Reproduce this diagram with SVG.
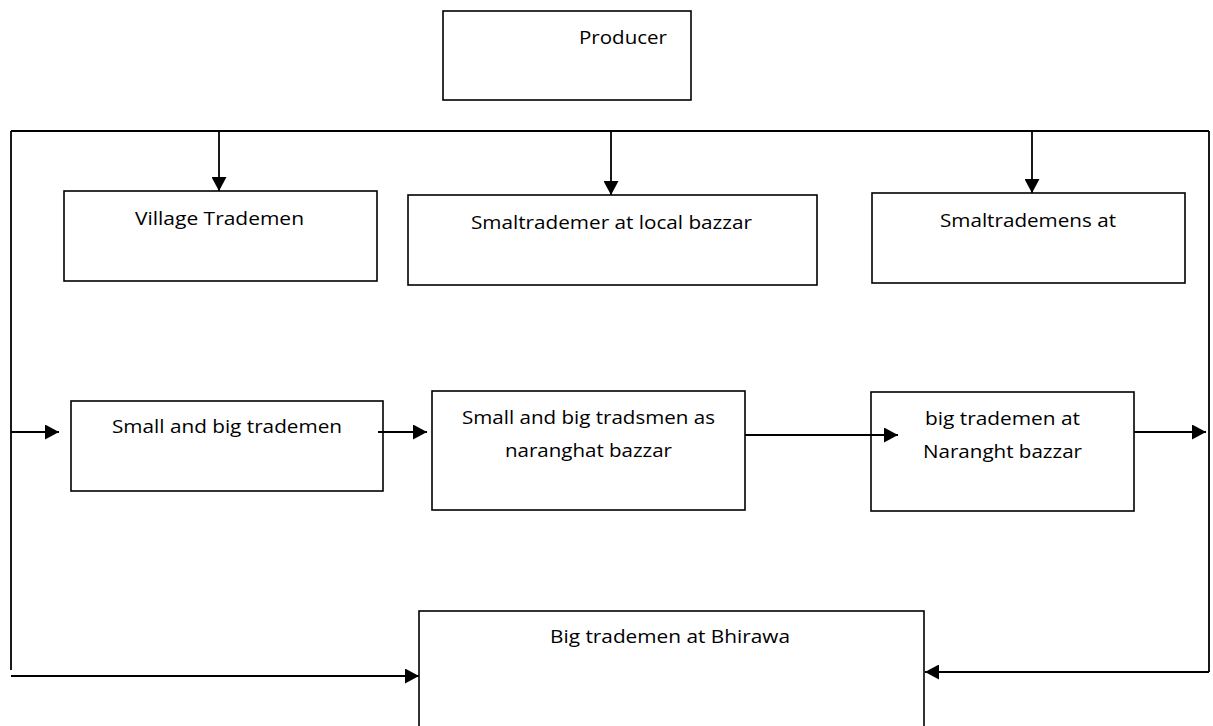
<svg xmlns="http://www.w3.org/2000/svg" width="1213" height="726" viewBox="0 0 1213 726">
<style>
.box{fill:#fff;stroke:#000;stroke-width:1.6}
.ln{fill:none;stroke:#000;stroke-width:1.8}
.arr{fill:none;stroke:#000;stroke-width:1.8;marker-end:url(#ah)}
text{font-family:"Open Sans","Liberation Sans",sans-serif;font-size:19px;fill:#000}
</style>
<defs>
<marker id="ah" markerUnits="userSpaceOnUse" markerWidth="15" markerHeight="15" refX="14" refY="7.5" orient="auto">
<path d="M0,0 L14,7.5 L0,15 z" fill="#000"/>
</marker>
</defs>
<rect width="1213" height="726" fill="#fff"/>
<g id="producer"><rect class="box" x="443" y="11" width="248" height="89"/><text x="579" y="44" textLength="88" lengthAdjust="spacingAndGlyphs">Producer</text></g>
<g id="village"><rect class="box" x="64" y="191" width="313" height="90"/><text x="135" y="225" textLength="169" lengthAdjust="spacingAndGlyphs">Village Trademen</text></g>
<g id="local"><rect class="box" x="408" y="195" width="409" height="90"/><text x="471" y="229" textLength="281" lengthAdjust="spacingAndGlyphs">Smaltrademer at local bazzar</text></g>
<g id="smalat"><rect class="box" x="872" y="193" width="313" height="90"/><text x="940" y="227" textLength="176" lengthAdjust="spacingAndGlyphs">Smaltrademens at</text></g>
<g id="smallbig"><rect class="box" x="71" y="401" width="312" height="90"/><text x="112" y="433" textLength="230" lengthAdjust="spacingAndGlyphs">Small and big trademen</text></g>
<g id="naranghat"><rect class="box" x="432" y="391" width="313" height="119"/><text x="462" y="424" textLength="253" lengthAdjust="spacingAndGlyphs">Small and big tradsmen as</text><text x="505" y="457" textLength="167" lengthAdjust="spacingAndGlyphs">naranghat bazzar</text></g>
<g id="bignaranght"><rect class="box" x="871" y="392" width="263" height="119"/><text x="925" y="425" textLength="155" lengthAdjust="spacingAndGlyphs">big trademen at</text><text x="923" y="458" textLength="159" lengthAdjust="spacingAndGlyphs">Naranght bazzar</text></g>
<g id="bhirawa"><rect class="box" x="419" y="611" width="505" height="140"/><text x="550" y="643" textLength="240" lengthAdjust="spacingAndGlyphs">Big trademen at Bhirawa</text></g>
<g id="connectors">
<path class="ln" d="M11,131 H1209"/>
<path class="ln" d="M11,131 V670"/>
<path class="ln" d="M1209,131 V672"/>
<path class="arr" d="M219,131 V191"/>
<path class="arr" d="M611,131 V195"/>
<path class="arr" d="M1032,131 V193"/>
<path class="arr" d="M11,432 H59"/>
<path class="arr" d="M378,432 H427"/>
<path class="arr" d="M745,435 H898"/>
<path class="arr" d="M1134,432 H1206"/>
<path class="arr" d="M11,676 H419"/>
<path class="arr" d="M1209,672 H925"/>
</g>
</svg>
